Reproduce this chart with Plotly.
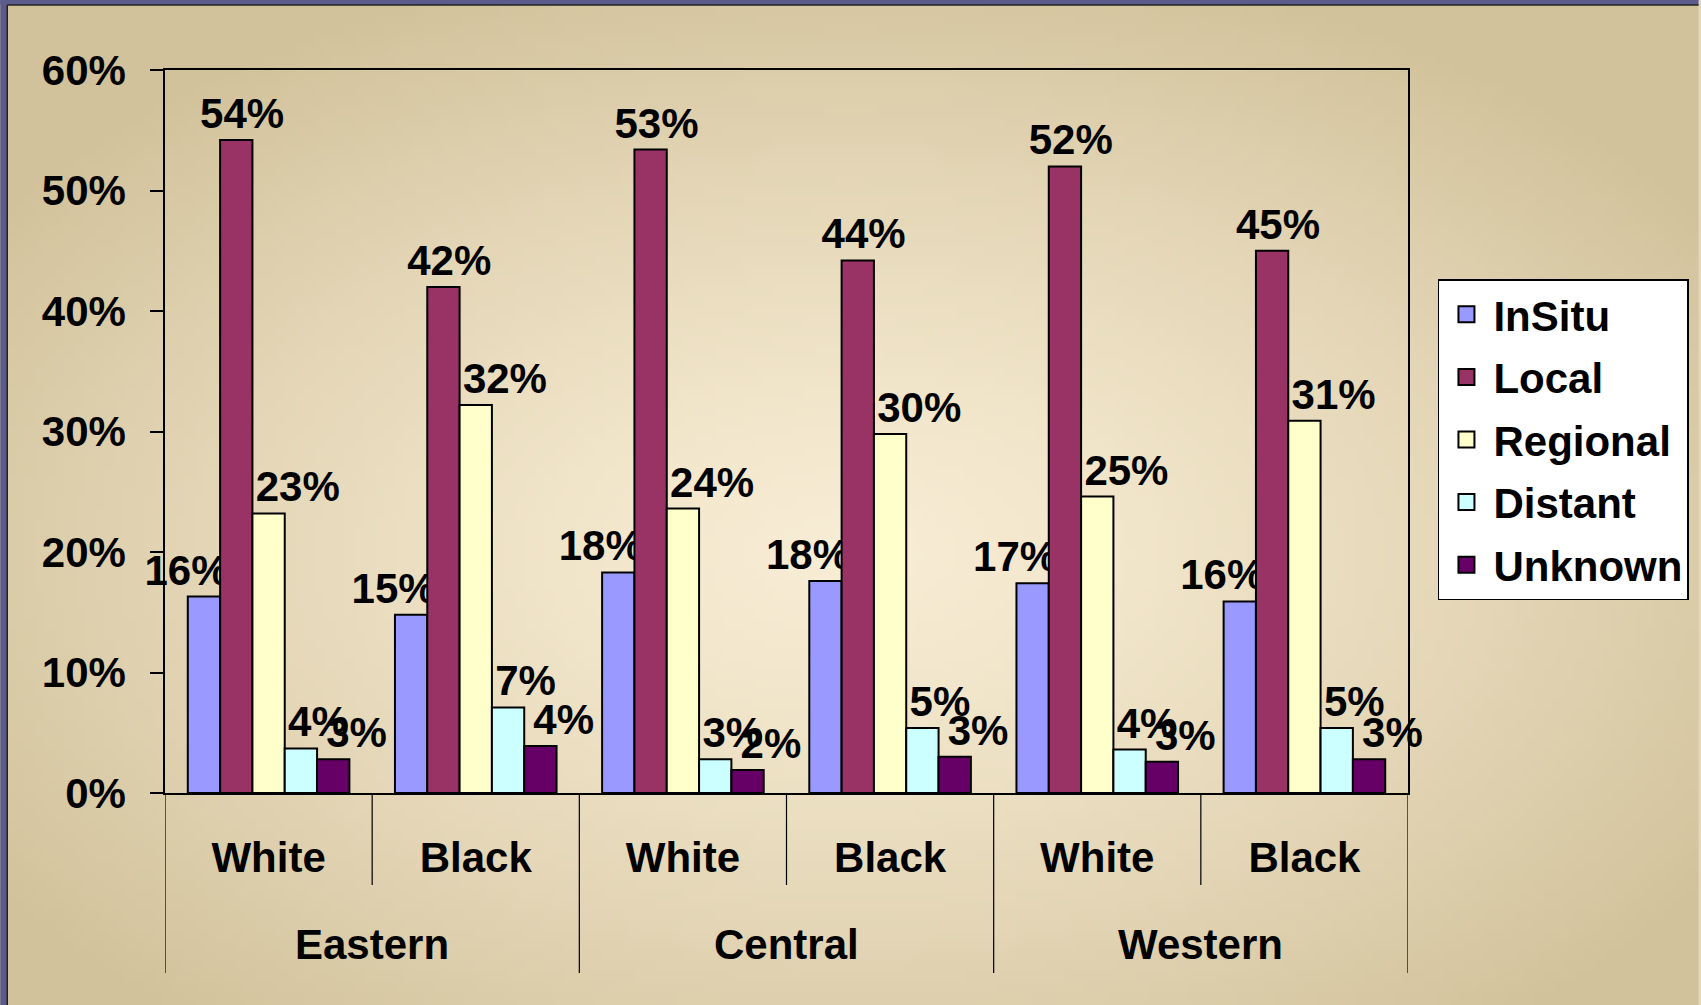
import base64
import struct
import zlib

import numpy as np
import plotly.graph_objects as go

# ---------------- data ----------------
regions = ["Eastern", "Eastern", "Central", "Central", "Western", "Western"]
races = ["White", "Black", "White", "Black", "White", "Black"]

series_names = ["InSitu", "Local", "Regional", "Distant", "Unknown"]
insitu = [16.3, 14.8, 18.3, 17.6, 17.4, 15.9]
local = [54.2, 42.0, 53.4, 44.2, 52.0, 45.0]
regional = [23.2, 32.2, 23.6, 29.8, 24.6, 30.9]
distant = [3.7, 7.1, 2.8, 5.4, 3.6, 5.4]
unknown = [2.8, 3.9, 1.9, 3.0, 2.6, 2.8]
series_values = [insitu, local, regional, distant, unknown]

y_ticks = [0, 10, 20, 30, 40, 50, 60]
y_tick_labels = ["0%", "10%", "20%", "30%", "40%", "50%", "60%"]

# ---------------- style ----------------
colors = ["#9999FF", "#993366", "#FFFFCC", "#CCFFFF", "#660066"]
NB = "\u00a0"
# label padding (left, right) to mimic the label placement of the original
label_pad = [(0, 3), (1, 0), (5, 0), (3, 0), (4, 0)]

W, H = 1701, 1005
ML, MR, MT, MB = 165, 291, 70, 212
PW, PH = W - ML - MR, H - MT - MB
FONT = "Liberation Sans, Arial, sans-serif"
FS = 42

x_keys = [f"{g}|{r}" for g, r in zip(regions, races)]


def make_png(w, h):
    xs = np.linspace(0, 1, w)[None, :]
    ys = np.linspace(0, 1, h)[:, None]
    d = np.sqrt(((xs - 0.5) / 0.62) ** 2 + ((ys - 0.55) / 0.62) ** 2)
    t = np.clip(d, 0, 1) ** 1.3
    c0 = np.array([248, 237, 213], float)
    c1 = np.array([210, 194, 155], float)
    img = c0[None, None, :] * (1 - t[..., None]) + c1[None, None, :] * t[..., None]
    img = img.astype(np.uint8)
    raw = b"".join(b"\x00" + img[r].tobytes() for r in range(h))

    def chunk(tag, data):
        c = struct.pack(">I", len(data)) + tag + data
        return c + struct.pack(">I", zlib.crc32(tag + data) & 0xFFFFFFFF)

    png = (b"\x89PNG\r\n\x1a\n"
           + chunk(b"IHDR", struct.pack(">IIBBBBB", w, h, 8, 2, 0, 0, 0))
           + chunk(b"IDAT", zlib.compress(raw, 9))
           + chunk(b"IEND", b""))
    return "data:image/png;base64," + base64.b64encode(png).decode()


fig = go.Figure()
for i, (name, vals) in enumerate(zip(series_names, series_values)):
    lp, rp = label_pad[i]
    fig.add_trace(go.Bar(
        name=name,
        x=x_keys,
        y=vals,
        marker=dict(color=colors[i], line=dict(color="black", width=2)),
        texttemplate=NB * lp + "%{y:.0f}%" + NB * rp,
        textposition="outside",
        constraintext="none",
        cliponaxis=False,
        textfont=dict(family=FONT, size=FS, color="black", weight="bold"),
        showlegend=False,
        hoverinfo="skip",
    ))

# legend entries (bigger square swatches than the default bar swatch)
for i, name in enumerate(series_names):
    fig.add_trace(go.Scatter(
        name=name,
        x=[x_keys[0]],
        y=[None],
        mode="markers",
        marker=dict(symbol="square", size=16, color=colors[i],
                    line=dict(color="black", width=2)),
        legendgroup=name,
        showlegend=True,
        hoverinfo="skip",
    ))

px = 1.0 / PW
py = 1.0 / PH
shapes = [
    # purple slide frame (left and top)
    dict(type="rect", xref="paper", yref="paper", x0=-ML * px, x1=(-ML + 7) * px,
         y0=-MB * py, y1=1 + MT * py, fillcolor="#5b5b8c", line_width=0, layer="above"),
    dict(type="rect", xref="paper", yref="paper", x0=-ML * px, x1=1 + MR * px,
         y0=1 + (MT - 5) * py, y1=1 + MT * py, fillcolor="#5b5b8c", line_width=0, layer="above"),
    dict(type="line", xref="paper", yref="paper", x0=(-ML + 7) * px, x1=(-ML + 7) * px,
         y0=-MB * py, y1=1 + (MT - 5) * py, line=dict(color="#222222", width=1.5)),
    dict(type="line", xref="paper", yref="paper", x0=(-ML + 7) * px, x1=1 + MR * px,
         y0=1 + (MT - 5) * py, y1=1 + (MT - 5) * py, line=dict(color="#222222", width=1.5)),
]

# category separators below the axis (short between races, long between regions)
n = len(x_keys)
annotations = []
start = 0
for k in range(1, n + 1):
    if k == n or regions[k] != regions[start]:
        # long divider at the left boundary of the region group
        shapes.append(dict(type="line", xref="x", yref="paper", x0=start - 0.5, x1=start - 0.5,
                           y0=0, y1=-180 * py, line=dict(color="black", width=1.2)))
        for j in range(start + 1, k):
            shapes.append(dict(type="line", xref="x", yref="paper", x0=j - 0.5, x1=j - 0.5,
                               y0=0, y1=-92 * py, line=dict(color="black", width=1.2)))
        annotations.append(dict(
            text=regions[start], xref="x", yref="paper", x=(start + k - 1) / 2,
            y=-152 * py, yanchor="middle", xanchor="center", showarrow=False,
            font=dict(family=FONT, size=FS, color="black", weight="bold"),
        ))
        start = k
shapes.append(dict(type="line", xref="x", yref="paper", x0=n - 0.5, x1=n - 0.5,
                   y0=0, y1=-180 * py, line=dict(color="black", width=1.2)))

fig.update_layout(
    width=W, height=H,
    margin=dict(l=ML, r=MR, t=MT, b=MB, pad=0),
    paper_bgcolor="#e3d8ba",
    plot_bgcolor="rgba(0,0,0,0)",
    font=dict(family=FONT, size=FS, color="black", weight="bold"),
    barmode="group",
    bargap=0.22,
    bargroupgap=0,
    showlegend=True,
    legend=dict(
        x=(1440 - ML) / PW, y=(H - MB - 279) / PH, xanchor="left", yanchor="top",
        bgcolor="white", bordercolor="black", borderwidth=1.5,
        font=dict(family=FONT, size=FS, color="black", weight="bold"),
        tracegroupgap=5, itemwidth=44,
    ),
    images=[dict(
        source=make_png(170, 100), xref="paper", yref="paper",
        x=-ML * px, y=1 + MT * py, sizex=W * px, sizey=H * py,
        xanchor="left", yanchor="top", sizing="stretch", layer="below",
    )],
    shapes=shapes,
    annotations=annotations,
)

fig.update_yaxes(
    range=[0, 60], tickmode="array", tickvals=y_ticks, ticktext=y_tick_labels,
    showgrid=False, zeroline=False,
    showline=True, linecolor="black", linewidth=1.5, mirror=True,
    ticks="outside", ticklen=13, tickcolor="black", tickwidth=1.5,
    ticklabelstandoff=16,
    tickfont=dict(family=FONT, size=FS, color="black", weight="bold"),
)
fig.update_xaxes(
    type="category",
    categoryorder="array", categoryarray=x_keys,
    tickmode="array", tickvals=x_keys, ticktext=races,
    range=[-0.5, n - 0.5],
    showgrid=False,
    showline=True, linecolor="black", linewidth=1.5, mirror=True,
    ticks="",
    ticklabelstandoff=27,
    tickfont=dict(family=FONT, size=FS, color="black", weight="bold"),
)

fig.write_html("out.html")
